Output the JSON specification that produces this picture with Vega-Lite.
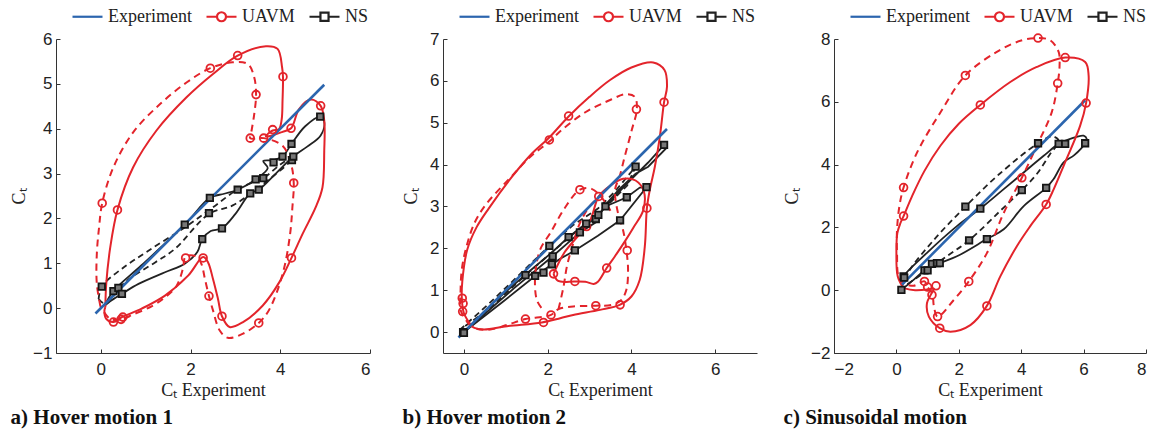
{
"$schema":"https://vega.github.io/schema/vega-lite/v6.json",
"padding":{"left":10,"top":0,"right":5,"bottom":5},
"bounds":"flush",
"spacing":73,
"resolve":{"scale":{"x":"independent","y":"independent","color":"independent","shape":"independent"},"legend":{"color":"independent","shape":"independent"}},
"config":{
 "view":{"stroke":null},
 "axis":{"grid":false,"domainColor":"#333","domainWidth":1,"tickColor":"#333","tickSize":-4,"tickWidth":1,"labelFont":"Liberation Sans","labelFontSize":17,"labelColor":"#222","labelPadding":12,"titleFont":"Liberation Serif","titleFontSize":18,"titleFontWeight":"normal","titleColor":"#222"},
 "axisX":{"titlePadding":4},
 "axisY":{"labelPadding":8},
 "legend":{"orient":"none","direction":"horizontal","padding":0,"symbolSize":900,"symbolStrokeWidth":2.2,"symbolFillColor":"white","symbolOpacity":1,"labelFont":"Liberation Serif","labelFontSize":18,"labelColor":"#222","labelOffset":4,"columnPadding":10}
},
"datasets":{
"EXP":[{"p":"a","x":-0.12,"y":-0.12},{"p":"a","x":4.98,"y":4.98},{"p":"b","x":-0.13,"y":-0.13},{"p":"b","x":4.85,"y":4.85},{"p":"c","x":0.18,"y":0.18},{"p":"c","x":6.05,"y":6.05}],
"LEG":[{"s":"Experiment"},{"s":"UAVM"},{"s":"NS"}],
"U":[
{"k":"as","g":1,"x":0.10,"y":0.02},{"k":"as","g":1,"x":0.12,"y":0.54},{"k":"as","g":1,"x":0.21,"y":1.36},{"k":"as","g":1,"x":0.37,"y":2.19},{"k":"as","g":1,"x":0.72,"y":3.14},{"k":"as","g":1,"x":1.24,"y":3.96},{"k":"as","g":1,"x":1.91,"y":4.70},{"k":"as","g":1,"x":2.50,"y":5.22},{"k":"as","g":1,"x":3.05,"y":5.63},{"k":"as","g":1,"x":3.68,"y":5.84},{"k":"as","g":1,"x":3.94,"y":5.78},{"k":"as","g":1,"x":4.04,"y":5.37},{"k":"as","g":1,"x":4.06,"y":5.16},{"k":"as","g":1,"x":4.05,"y":4.63},{"k":"as","g":1,"x":4.03,"y":4.2},{"k":"as","g":1,"x":3.97,"y":3.99},{"k":"as","g":1,"x":3.83,"y":3.96},{"k":"as","g":1,"x":3.68,"y":3.83},{"k":"as","g":1,"x":3.85,"y":3.86},{"k":"as","g":1,"x":4.05,"y":3.93},{"k":"as","g":1,"x":4.24,"y":4.01},{"k":"as","g":1,"x":4.42,"y":4.44},{"k":"as","g":1,"x":4.68,"y":4.65},{"k":"as","g":1,"x":4.90,"y":4.51},{"k":"as","g":1,"x":4.98,"y":4.18},{"k":"as","g":1,"x":4.98,"y":3.51},{"k":"as","g":1,"x":4.94,"y":2.69},{"k":"as","g":1,"x":4.79,"y":2.25},{"k":"as","g":1,"x":4.50,"y":1.66},{"k":"as","g":1,"x":4.25,"y":1.12},{"k":"as","g":1,"x":3.98,"y":0.58},{"k":"as","g":1,"x":3.61,"y":0.06},{"k":"as","g":1,"x":3.17,"y":-0.31},{"k":"as","g":1,"x":2.87,"y":-0.42},{"k":"as","g":1,"x":2.70,"y":-0.18},{"k":"as","g":1,"x":2.61,"y":0.21},{"k":"as","g":1,"x":2.50,"y":0.65},{"k":"as","g":1,"x":2.39,"y":1.02},{"k":"as","g":1,"x":2.28,"y":1.14},{"k":"as","g":1,"x":1.95,"y":0.73},{"k":"as","g":1,"x":1.43,"y":0.28},{"k":"as","g":1,"x":0.91,"y":-0.01},{"k":"as","g":1,"x":0.47,"y":-0.20},{"k":"as","g":1,"x":0.28,"y":-0.31},{"k":"as","g":1,"x":0.12,"y":-0.24},{"k":"as","g":1,"x":0.08,"y":-0.05},{"k":"as","g":1,"x":0.10,"y":0.02},
{"k":"ad","g":2,"x":-0.01,"y":0.04},{"k":"ad","g":2,"x":-0.09,"y":0.54},{"k":"ad","g":2,"x":-0.09,"y":1.21},{"k":"ad","g":2,"x":-0.04,"y":1.80},{"k":"ad","g":2,"x":0.03,"y":2.34},{"k":"ad","g":2,"x":0.28,"y":3.14},{"k":"ad","g":2,"x":0.72,"y":3.92},{"k":"ad","g":2,"x":1.32,"y":4.55},{"k":"ad","g":2,"x":1.91,"y":5.03},{"k":"ad","g":2,"x":2.44,"y":5.35},{"k":"ad","g":2,"x":2.94,"y":5.48},{"k":"ad","g":2,"x":3.28,"y":5.44},{"k":"ad","g":2,"x":3.42,"y":5.14},{"k":"ad","g":2,"x":3.46,"y":4.76},{"k":"ad","g":2,"x":3.42,"y":4.33},{"k":"ad","g":2,"x":3.36,"y":3.96},{"k":"ad","g":2,"x":3.33,"y":3.79},{"k":"ad","g":2,"x":3.63,"y":3.79},{"k":"ad","g":2,"x":4.05,"y":3.62},{"k":"ad","g":2,"x":4.24,"y":3.21},{"k":"ad","g":2,"x":4.30,"y":2.79},{"k":"ad","g":2,"x":4.27,"y":2.25},{"k":"ad","g":2,"x":4.22,"y":1.66},{"k":"ad","g":2,"x":4.09,"y":0.91},{"k":"ad","g":2,"x":3.91,"y":0.32},{"k":"ad","g":2,"x":3.72,"y":-0.09},{"k":"ad","g":2,"x":3.52,"y":-0.33},{"k":"ad","g":2,"x":3.17,"y":-0.57},{"k":"ad","g":2,"x":2.83,"y":-0.66},{"k":"ad","g":2,"x":2.65,"y":-0.50},{"k":"ad","g":2,"x":2.50,"y":-0.05},{"k":"ad","g":2,"x":2.41,"y":0.27},{"k":"ad","g":2,"x":2.32,"y":0.65},{"k":"ad","g":2,"x":2.24,"y":0.99},{"k":"ad","g":2,"x":2.13,"y":1.15},{"k":"ad","g":2,"x":1.89,"y":1.15},{"k":"ad","g":2,"x":1.83,"y":0.88},{"k":"ad","g":2,"x":1.69,"y":0.50},{"k":"ad","g":2,"x":1.43,"y":0.24},{"k":"ad","g":2,"x":1.13,"y":0.04},{"k":"ad","g":2,"x":0.72,"y":-0.14},{"k":"ad","g":2,"x":0.49,"y":-0.24},{"k":"ad","g":2,"x":0.21,"y":-0.24},{"k":"ad","g":2,"x":-0.01,"y":0.04},
{"k":"bs","g":3,"x":0.18,"y":0.15},{"k":"bs","g":3,"x":0.0,"y":0.45},{"k":"bs","g":3,"x":-0.05,"y":0.8},{"k":"bs","g":3,"x":-0.04,"y":1.2},{"k":"bs","g":3,"x":0.08,"y":1.97},{"k":"bs","g":3,"x":0.3,"y":2.5},{"k":"bs","g":3,"x":0.59,"y":2.95},{"k":"bs","g":3,"x":1.15,"y":3.71},{"k":"bs","g":3,"x":1.63,"y":4.27},{"k":"bs","g":3,"x":2.02,"y":4.63},{"k":"bs","g":3,"x":2.5,"y":5.15},{"k":"bs","g":3,"x":3.0,"y":5.62},{"k":"bs","g":3,"x":3.49,"y":6.02},{"k":"bs","g":3,"x":4.0,"y":6.32},{"k":"bs","g":3,"x":4.52,"y":6.44},{"k":"bs","g":3,"x":4.79,"y":6.26},{"k":"bs","g":3,"x":4.85,"y":5.86},{"k":"bs","g":3,"x":4.78,"y":5.49},{"k":"bs","g":3,"x":4.68,"y":4.67},{"k":"bs","g":3,"x":4.56,"y":3.95},{"k":"bs","g":3,"x":4.44,"y":3.4},{"k":"bs","g":3,"x":4.37,"y":2.96},{"k":"bs","g":3,"x":4.32,"y":2.04},{"k":"bs","g":3,"x":4.2,"y":1.25},{"k":"bs","g":3,"x":4.0,"y":0.85},{"k":"bs","g":3,"x":3.72,"y":0.65},{"k":"bs","g":3,"x":3.25,"y":0.53},{"k":"bs","g":3,"x":2.61,"y":0.41},{"k":"bs","g":3,"x":2.3,"y":0.33},{"k":"bs","g":3,"x":1.86,"y":0.23},{"k":"bs","g":3,"x":1.03,"y":0.14},{"k":"bs","g":3,"x":0.48,"y":0.06},{"k":"bs","g":3,"x":0.25,"y":0.1},{"k":"bs","g":3,"x":0.18,"y":0.15},
{"k":"bs","g":4,"x":2.14,"y":1.39},{"k":"bs","g":4,"x":2.4,"y":1.9},{"k":"bs","g":4,"x":2.78,"y":2.36},{"k":"bs","g":4,"x":3.02,"y":2.68},{"k":"bs","g":4,"x":3.22,"y":3.24},{"k":"bs","g":4,"x":3.5,"y":3.5},{"k":"bs","g":4,"x":3.8,"y":3.66},{"k":"bs","g":4,"x":4.1,"y":3.62},{"k":"bs","g":4,"x":4.3,"y":3.35},{"k":"bs","g":4,"x":4.28,"y":2.9},{"k":"bs","g":4,"x":4.05,"y":2.5},{"k":"bs","g":4,"x":3.84,"y":2.16},{"k":"bs","g":4,"x":3.6,"y":1.8},{"k":"bs","g":4,"x":3.41,"y":1.53},{"k":"bs","g":4,"x":3.2,"y":1.2},{"k":"bs","g":4,"x":3.1,"y":1.15},{"k":"bs","g":4,"x":2.9,"y":1.2},{"k":"bs","g":4,"x":2.65,"y":1.21},{"k":"bs","g":4,"x":2.25,"y":1.22},{"k":"bs","g":4,"x":2.14,"y":1.39},
{"k":"bd","g":5,"x":0.15,"y":0.15},{"k":"bd","g":5,"x":-0.07,"y":0.5},{"k":"bd","g":5,"x":-0.08,"y":1.0},{"k":"bd","g":5,"x":-0.05,"y":1.5},{"k":"bd","g":5,"x":0.05,"y":2.0},{"k":"bd","g":5,"x":0.25,"y":2.6},{"k":"bd","g":5,"x":0.52,"y":3.04},{"k":"bd","g":5,"x":1.1,"y":3.68},{"k":"bd","g":5,"x":1.6,"y":4.2},{"k":"bd","g":5,"x":2.04,"y":4.55},{"k":"bd","g":5,"x":2.34,"y":4.83},{"k":"bd","g":5,"x":2.9,"y":5.25},{"k":"bd","g":5,"x":3.53,"y":5.56},{"k":"bd","g":5,"x":3.85,"y":5.68},{"k":"bd","g":5,"x":4.08,"y":5.62},{"k":"bd","g":5,"x":4.13,"y":5.32},{"k":"bd","g":5,"x":4.01,"y":4.83},{"k":"bd","g":5,"x":3.84,"y":4.19},{"k":"bd","g":5,"x":3.72,"y":3.72},{"k":"bd","g":5,"x":3.61,"y":3.40},{"k":"bd","g":5,"x":3.68,"y":2.84},{"k":"bd","g":5,"x":3.8,"y":2.44},{"k":"bd","g":5,"x":3.88,"y":1.96},{"k":"bd","g":5,"x":3.92,"y":1.49},{"k":"bd","g":5,"x":3.88,"y":1.01},{"k":"bd","g":5,"x":3.76,"y":0.77},{"k":"bd","g":5,"x":3.53,"y":0.65},{"k":"bd","g":5,"x":3.15,"y":0.63},{"k":"bd","g":5,"x":2.61,"y":0.61},{"k":"bd","g":5,"x":2.26,"y":0.55},{"k":"bd","g":5,"x":2.08,"y":0.41},{"k":"bd","g":5,"x":1.47,"y":0.31},{"k":"bd","g":5,"x":1.03,"y":0.17},{"k":"bd","g":5,"x":0.63,"y":0.06},{"k":"bd","g":5,"x":0.3,"y":0.08},{"k":"bd","g":5,"x":0.15,"y":0.15},
{"k":"bd","g":6,"x":1.85,"y":0.58},{"k":"bd","g":6,"x":1.74,"y":0.77},{"k":"bd","g":6,"x":1.70,"y":1.33},{"k":"bd","g":6,"x":1.82,"y":1.97},{"k":"bd","g":6,"x":2.06,"y":2.36},{"k":"bd","g":6,"x":2.4,"y":2.95},{"k":"bd","g":6,"x":2.77,"y":3.40},{"k":"bd","g":6,"x":3.05,"y":3.42},{"k":"bd","g":6,"x":3.3,"y":3.2},{"k":"bd","g":6,"x":3.5,"y":2.9},
{"k":"bd","g":7,"x":2.26,"y":0.55},{"k":"bd","g":7,"x":2.38,"y":1.09},{"k":"bd","g":7,"x":2.46,"y":1.57},{"k":"bd","g":7,"x":2.61,"y":2.12},{"k":"bd","g":7,"x":2.77,"y":2.6},{"k":"bd","g":7,"x":3.0,"y":3.0},{"k":"bd","g":7,"x":3.3,"y":3.3},
{"k":"cs","g":8,"x":0.2,"y":0.1},{"k":"cs","g":8,"x":0.04,"y":0.45},{"k":"cs","g":8,"x":0.0,"y":1.18},{"k":"cs","g":8,"x":0.03,"y":1.82},{"k":"cs","g":8,"x":0.13,"y":2.14},{"k":"cs","g":8,"x":0.23,"y":2.36},{"k":"cs","g":8,"x":0.5,"y":2.99},{"k":"cs","g":8,"x":0.9,"y":3.8},{"k":"cs","g":8,"x":1.41,"y":4.6},{"k":"cs","g":8,"x":2.0,"y":5.3},{"k":"cs","g":8,"x":2.69,"y":5.9},{"k":"cs","g":8,"x":3.65,"y":6.63},{"k":"cs","g":8,"x":4.5,"y":7.11},{"k":"cs","g":8,"x":5.41,"y":7.41},{"k":"cs","g":8,"x":6.05,"y":7.27},{"k":"cs","g":8,"x":6.16,"y":6.85},{"k":"cs","g":8,"x":6.08,"y":5.96},{"k":"cs","g":8,"x":5.89,"y":5.24},{"k":"cs","g":8,"x":5.36,"y":3.96},{"k":"cs","g":8,"x":5.04,"y":3.21},{"k":"cs","g":8,"x":4.8,"y":2.73},{"k":"cs","g":8,"x":4.29,"y":2.04},{"k":"cs","g":8,"x":3.86,"y":1.4},{"k":"cs","g":8,"x":3.33,"y":0.44},{"k":"cs","g":8,"x":2.9,"y":-0.5},{"k":"cs","g":8,"x":2.37,"y":-1.11},{"k":"cs","g":8,"x":1.73,"y":-1.32},{"k":"cs","g":8,"x":1.39,"y":-1.21},{"k":"cs","g":8,"x":1.04,"y":-0.84},{"k":"cs","g":8,"x":0.98,"y":-0.41},{"k":"cs","g":8,"x":1.1,"y":-0.15},{"k":"cs","g":8,"x":1.2,"y":0.05},{"k":"cs","g":8,"x":1.0,"y":0.02},{"k":"cs","g":8,"x":0.6,"y":0.0},{"k":"cs","g":8,"x":0.3,"y":0.05},{"k":"cs","g":8,"x":0.2,"y":0.1},
{"k":"cd","g":9,"x":0.25,"y":0.2},{"k":"cd","g":9,"x":0.07,"y":0.44},{"k":"cd","g":9,"x":0.02,"y":1.18},{"k":"cd","g":9,"x":0.02,"y":1.93},{"k":"cd","g":9,"x":0.1,"y":2.7},{"k":"cd","g":9,"x":0.23,"y":3.27},{"k":"cd","g":9,"x":0.66,"y":4.38},{"k":"cd","g":9,"x":1.41,"y":5.66},{"k":"cd","g":9,"x":2.21,"y":6.84},{"k":"cd","g":9,"x":3.22,"y":7.59},{"k":"cd","g":9,"x":4.0,"y":7.95},{"k":"cd","g":9,"x":4.54,"y":8.03},{"k":"cd","g":9,"x":4.93,"y":7.96},{"k":"cd","g":9,"x":5.2,"y":7.59},{"k":"cd","g":9,"x":5.23,"y":7.16},{"k":"cd","g":9,"x":5.17,"y":6.59},{"k":"cd","g":9,"x":4.98,"y":5.67},{"k":"cd","g":9,"x":4.5,"y":4.6},{"k":"cd","g":9,"x":4.02,"y":3.58},{"k":"cd","g":9,"x":3.44,"y":2.46},{"k":"cd","g":9,"x":2.9,"y":1.18},{"k":"cd","g":9,"x":2.32,"y":0.28},{"k":"cd","g":9,"x":1.84,"y":-0.31},{"k":"cd","g":9,"x":1.32,"y":-0.84},{"k":"cd","g":9,"x":1.2,"y":-0.5},{"k":"cd","g":9,"x":1.15,"y":-0.1},{"k":"cd","g":9,"x":1.0,"y":0.1},{"k":"cd","g":9,"x":0.9,"y":0.28},{"k":"cd","g":9,"x":0.55,"y":0.14},{"k":"cd","g":9,"x":0.25,"y":0.2}
],
"N":[
{"k":"as","g":1,"x":0.08,"y":0.05},{"k":"as","g":1,"x":0.28,"y":0.38},{"k":"as","g":1,"x":0.9,"y":0.95},{"k":"as","g":1,"x":1.87,"y":1.86},{"k":"as","g":1,"x":2.43,"y":2.46},{"k":"as","g":1,"x":2.75,"y":2.55},{"k":"as","g":1,"x":3.05,"y":2.64},{"k":"as","g":1,"x":3.45,"y":2.87},{"k":"as","g":1,"x":3.72,"y":3.12},{"k":"as","g":1,"x":3.62,"y":3.28},{"k":"as","g":1,"x":3.85,"y":3.3},{"k":"as","g":1,"x":4.05,"y":3.38},{"k":"as","g":1,"x":4.25,"y":3.66},{"k":"as","g":1,"x":4.55,"y":4.05},{"k":"as","g":1,"x":4.89,"y":4.27},{"k":"as","g":1,"x":4.98,"y":4.15},{"k":"as","g":1,"x":4.9,"y":3.85},{"k":"as","g":1,"x":4.6,"y":3.6},{"k":"as","g":1,"x":4.29,"y":3.38},{"k":"as","g":1,"x":3.9,"y":3.0},{"k":"as","g":1,"x":3.52,"y":2.64},{"k":"as","g":1,"x":3.33,"y":2.56},{"k":"as","g":1,"x":3.0,"y":2.1},{"k":"as","g":1,"x":2.7,"y":1.78},{"k":"as","g":1,"x":2.45,"y":1.72},{"k":"as","g":1,"x":2.26,"y":1.54},{"k":"as","g":1,"x":2.15,"y":1.25},{"k":"as","g":1,"x":1.87,"y":0.99},{"k":"as","g":1,"x":1.43,"y":0.80},{"k":"as","g":1,"x":0.84,"y":0.54},{"k":"as","g":1,"x":0.47,"y":0.32},{"k":"as","g":1,"x":0.2,"y":0.15},{"k":"as","g":1,"x":0.08,"y":0.05},
{"k":"ad","g":2,"x":-0.05,"y":0.2},{"k":"ad","g":2,"x":0.02,"y":0.48},{"k":"ad","g":2,"x":0.47,"y":0.88},{"k":"ad","g":2,"x":1.06,"y":1.28},{"k":"ad","g":2,"x":1.87,"y":1.8},{"k":"ad","g":2,"x":2.5,"y":2.25},{"k":"ad","g":2,"x":3.1,"y":2.68},{"k":"ad","g":2,"x":3.62,"y":2.9},{"k":"ad","g":2,"x":4.0,"y":3.2},{"k":"ad","g":2,"x":4.29,"y":3.38},{"k":"ad","g":2,"x":4.2,"y":3.25},{"k":"ad","g":2,"x":3.9,"y":2.99},{"k":"ad","g":2,"x":3.4,"y":2.6},{"k":"ad","g":2,"x":2.94,"y":2.29},{"k":"ad","g":2,"x":2.41,"y":2.1},{"k":"ad","g":2,"x":1.65,"y":1.32},{"k":"ad","g":2,"x":1.21,"y":1.02},{"k":"ad","g":2,"x":0.54,"y":0.58},{"k":"ad","g":2,"x":0.1,"y":0.1},{"k":"ad","g":2,"x":-0.05,"y":0.2},
{"k":"bs","g":3,"x":0.0,"y":0.0},{"k":"bs","g":3,"x":0.9,"y":0.7},{"k":"bs","g":3,"x":1.7,"y":1.34},{"k":"bs","g":3,"x":2.3,"y":1.75},{"k":"bs","g":3,"x":2.65,"y":1.95},{"k":"bs","g":3,"x":3.2,"y":2.3},{"k":"bs","g":3,"x":3.73,"y":2.67},{"k":"bs","g":3,"x":4.36,"y":3.46},{"k":"bs","g":3,"x":4.2,"y":3.45},{"k":"bs","g":3,"x":3.89,"y":3.22},{"k":"bs","g":3,"x":3.38,"y":3.0},{"k":"bs","g":3,"x":3.15,"y":2.7},{"k":"bs","g":3,"x":2.92,"y":2.59},{"k":"bs","g":3,"x":2.5,"y":2.27},{"k":"bs","g":3,"x":2.1,"y":1.9},{"k":"bs","g":3,"x":1.5,"y":1.4},{"k":"bs","g":3,"x":0.7,"y":0.7},{"k":"bs","g":3,"x":0.0,"y":0.0},
{"k":"bs","g":4,"x":0.0,"y":0.0},{"k":"bs","g":4,"x":1.2,"y":1.05},{"k":"bs","g":4,"x":2.12,"y":1.81},{"k":"bs","g":4,"x":2.77,"y":2.38},{"k":"bs","g":4,"x":3.15,"y":2.62},{"k":"bs","g":4,"x":3.21,"y":2.8},{"k":"bs","g":4,"x":3.38,"y":3.0},{"k":"bs","g":4,"x":3.9,"y":3.55},{"k":"bs","g":4,"x":4.4,"y":4.05},{"k":"bs","g":4,"x":4.78,"y":4.47},{"k":"bs","g":4,"x":4.82,"y":4.38},{"k":"bs","g":4,"x":4.4,"y":3.95},{"k":"bs","g":4,"x":4.1,"y":3.78},{"k":"bs","g":4,"x":3.7,"y":3.4},{"k":"bs","g":4,"x":3.3,"y":2.95},
{"k":"bd","g":5,"x":-0.1,"y":0.05},{"k":"bd","g":5,"x":0.6,"y":0.68},{"k":"bd","g":5,"x":1.2,"y":1.25},{"k":"bd","g":5,"x":2.04,"y":2.06},{"k":"bd","g":5,"x":2.6,"y":2.55},{"k":"bd","g":5,"x":3.2,"y":2.95},{"k":"bd","g":5,"x":3.6,"y":3.35},{"k":"bd","g":5,"x":4.1,"y":3.95},{"k":"bd","g":5,"x":3.9,"y":3.5},{"k":"bd","g":5,"x":3.4,"y":3.0},{"k":"bd","g":5,"x":2.5,"y":2.25},{"k":"bd","g":5,"x":1.47,"y":1.36},{"k":"bd","g":5,"x":0.6,"y":0.55},{"k":"bd","g":5,"x":-0.1,"y":0.05},
{"k":"cs","g":6,"x":0.16,"y":0.01},{"k":"cs","g":6,"x":0.2,"y":0.3},{"k":"cs","g":6,"x":0.23,"y":0.44},{"k":"cs","g":6,"x":0.98,"y":1.19},{"k":"cs","g":6,"x":1.94,"y":2.04},{"k":"cs","g":6,"x":2.69,"y":2.6},{"k":"cs","g":6,"x":3.44,"y":3.22},{"k":"cs","g":6,"x":4.08,"y":3.75},{"k":"cs","g":6,"x":4.72,"y":4.28},{"k":"cs","g":6,"x":5.2,"y":4.66},{"k":"cs","g":6,"x":5.57,"y":4.82},{"k":"cs","g":6,"x":6.0,"y":4.92},{"k":"cs","g":6,"x":6.1,"y":4.82},{"k":"cs","g":6,"x":6.05,"y":4.68},{"k":"cs","g":6,"x":5.7,"y":4.3},{"k":"cs","g":6,"x":5.36,"y":4.07},{"k":"cs","g":6,"x":5.04,"y":3.54},{"k":"cs","g":6,"x":4.8,"y":3.26},{"k":"cs","g":6,"x":4.08,"y":2.68},{"k":"cs","g":6,"x":3.44,"y":1.94},{"k":"cs","g":6,"x":2.9,"y":1.63},{"k":"cs","g":6,"x":1.94,"y":1.08},{"k":"cs","g":6,"x":1.41,"y":0.87},{"k":"cs","g":6,"x":1.09,"y":0.71},{"k":"cs","g":6,"x":0.9,"y":0.63},{"k":"cs","g":6,"x":0.55,"y":0.33},{"k":"cs","g":6,"x":0.16,"y":0.01},
{"k":"cd","g":7,"x":0.15,"y":0.05},{"k":"cd","g":7,"x":0.4,"y":0.6},{"k":"cd","g":7,"x":1.2,"y":1.6},{"k":"cd","g":7,"x":2.21,"y":2.66},{"k":"cd","g":7,"x":3.3,"y":3.7},{"k":"cd","g":7,"x":4.54,"y":4.68},{"k":"cd","g":7,"x":5.0,"y":4.9},{"k":"cd","g":7,"x":5.2,"y":4.75},{"k":"cd","g":7,"x":4.9,"y":4.3},{"k":"cd","g":7,"x":4.5,"y":3.7},{"k":"cd","g":7,"x":4.02,"y":3.19},{"k":"cd","g":7,"x":3.3,"y":2.5},{"k":"cd","g":7,"x":2.33,"y":1.59},{"k":"cd","g":7,"x":1.5,"y":1.0},{"k":"cd","g":7,"x":0.8,"y":0.5},{"k":"cd","g":7,"x":0.15,"y":0.05}
],
"MU":[
{"p":"a","x":0.37,"y":2.19},{"p":"a","x":3.05,"y":5.63},{"p":"a","x":4.06,"y":5.16},{"p":"a","x":3.83,"y":3.98},{"p":"a","x":3.63,"y":3.79},{"p":"a","x":4.24,"y":4.01},{"p":"a","x":4.90,"y":4.51},{"p":"a","x":4.25,"y":1.12},{"p":"a","x":2.70,"y":-0.18},{"p":"a","x":2.28,"y":1.12},{"p":"a","x":0.49,"y":-0.20},{"p":"a","x":0.28,"y":-0.31},{"p":"a","x":0.03,"y":2.34},{"p":"a","x":2.44,"y":5.35},{"p":"a","x":3.46,"y":4.76},{"p":"a","x":3.33,"y":3.79},{"p":"a","x":4.30,"y":2.79},{"p":"a","x":3.52,"y":-0.33},{"p":"a","x":2.41,"y":0.27},{"p":"a","x":1.89,"y":1.12},{"p":"a","x":0.45,"y":-0.25},
{"p":"b","x":-0.04,"y":0.81},{"p":"b","x":-0.02,"y":0.68},{"p":"b","x":-0.03,"y":0.49},{"p":"b","x":2.04,"y":4.59},{"p":"b","x":2.50,"y":5.16},{"p":"b","x":4.78,"y":5.49},{"p":"b","x":4.12,"y":5.32},{"p":"b","x":2.77,"y":3.40},{"p":"b","x":3.22,"y":3.24},{"p":"b","x":2.93,"y":2.52},{"p":"b","x":4.37,"y":2.96},{"p":"b","x":3.90,"y":1.95},{"p":"b","x":3.41,"y":1.53},{"p":"b","x":2.14,"y":1.39},{"p":"b","x":2.65,"y":1.21},{"p":"b","x":3.73,"y":0.65},{"p":"b","x":3.15,"y":0.63},{"p":"b","x":2.08,"y":0.41},{"p":"b","x":1.90,"y":0.23},{"p":"b","x":1.47,"y":0.31},
{"p":"c","x":0.23,"y":2.36},{"p":"c","x":0.23,"y":3.27},{"p":"c","x":2.21,"y":6.84},{"p":"c","x":2.69,"y":5.90},{"p":"c","x":4.54,"y":8.03},{"p":"c","x":5.41,"y":7.41},{"p":"c","x":5.17,"y":6.59},{"p":"c","x":6.08,"y":5.96},{"p":"c","x":4.02,"y":3.58},{"p":"c","x":4.80,"y":2.73},{"p":"c","x":2.32,"y":0.28},{"p":"c","x":2.90,"y":-0.50},{"p":"c","x":1.32,"y":-0.84},{"p":"c","x":1.39,"y":-1.21},{"p":"c","x":0.90,"y":0.28},{"p":"c","x":1.00,"y":0.10},{"p":"c","x":1.14,"y":-0.15},{"p":"c","x":1.27,"y":0.14}
],
"MN":[
{"p":"a","x":0.02,"y":0.48},{"p":"a","x":0.28,"y":0.38},{"p":"a","x":0.39,"y":0.45},{"p":"a","x":0.47,"y":0.32},{"p":"a","x":1.87,"y":1.86},{"p":"a","x":2.26,"y":1.54},{"p":"a","x":2.43,"y":2.46},{"p":"a","x":2.41,"y":2.12},{"p":"a","x":2.70,"y":1.78},{"p":"a","x":3.05,"y":2.64},{"p":"a","x":3.33,"y":2.56},{"p":"a","x":3.45,"y":2.87},{"p":"a","x":3.52,"y":2.64},{"p":"a","x":3.62,"y":2.90},{"p":"a","x":3.85,"y":3.25},{"p":"a","x":4.05,"y":3.38},{"p":"a","x":4.25,"y":3.66},{"p":"a","x":4.26,"y":3.30},{"p":"a","x":4.29,"y":3.38},{"p":"a","x":4.89,"y":4.27},
{"p":"b","x":-0.02,"y":0.0},{"p":"b","x":0.0,"y":-0.02},{"p":"b","x":1.47,"y":1.36},{"p":"b","x":1.70,"y":1.34},{"p":"b","x":1.90,"y":1.42},{"p":"b","x":2.04,"y":2.06},{"p":"b","x":2.12,"y":1.81},{"p":"b","x":2.10,"y":1.62},{"p":"b","x":2.50,"y":2.27},{"p":"b","x":2.65,"y":1.95},{"p":"b","x":2.77,"y":2.38},{"p":"b","x":2.92,"y":2.59},{"p":"b","x":3.15,"y":2.70},{"p":"b","x":3.21,"y":2.80},{"p":"b","x":3.38,"y":3.00},{"p":"b","x":3.73,"y":2.67},{"p":"b","x":3.89,"y":3.22},{"p":"b","x":4.10,"y":3.95},{"p":"b","x":4.36,"y":3.46},{"p":"b","x":4.78,"y":4.47},
{"p":"c","x":0.23,"y":0.44},{"p":"c","x":0.25,"y":0.40},{"p":"c","x":0.16,"y":0.01},{"p":"c","x":0.90,"y":0.63},{"p":"c","x":1.00,"y":0.63},{"p":"c","x":1.14,"y":0.84},{"p":"c","x":1.30,"y":0.86},{"p":"c","x":1.39,"y":0.86},{"p":"c","x":2.21,"y":2.66},{"p":"c","x":2.33,"y":1.59},{"p":"c","x":2.69,"y":2.60},{"p":"c","x":2.90,"y":1.63},{"p":"c","x":4.02,"y":3.19},{"p":"c","x":4.54,"y":4.68},{"p":"c","x":4.80,"y":3.26},{"p":"c","x":5.20,"y":4.66},{"p":"c","x":5.41,"y":4.66},{"p":"c","x":6.05,"y":4.68}
]
},
"hconcat":[
{
"width":314,"height":314,
"title":{"text":"a) Hover motion 1","orient":"bottom","anchor":"start","frame":"bounds","font":"Liberation Serif","fontSize":21,"fontWeight":"bold","color":"#111","offset":8},
"encoding":{
 "x":{"field":"x","type":"quantitative","scale":{"domain":[-1,6],"nice":false,"zero":false},"axis":{"values":[0,2,4,6],"title":"Cₜ Experiment"}},
 "y":{"field":"y","type":"quantitative","scale":{"domain":[-1,6],"nice":false,"zero":false},"axis":{"values":[-1,0,1,2,3,4,5,6],"title":"Cₜ","titlePadding":4}}
},
"layer":[
 {"data":{"name":"N"},"transform":[{"filter":"datum.k=='ad'"},{"window":[{"op":"row_number","as":"i"}]}],"mark":{"type":"line","interpolate":"catmull-rom","color":"#222222","strokeWidth":1.8,"strokeDash":[6,4]},"encoding":{"detail":{"field":"g"},"order":{"field":"i","type":"quantitative"}}},
 {"data":{"name":"N"},"transform":[{"filter":"datum.k=='as'"},{"window":[{"op":"row_number","as":"i"}]}],"mark":{"type":"line","interpolate":"catmull-rom","color":"#222222","strokeWidth":1.8},"encoding":{"detail":{"field":"g"},"order":{"field":"i","type":"quantitative"}}},
 {"data":{"name":"U"},"transform":[{"filter":"datum.k=='ad'"},{"window":[{"op":"row_number","as":"i"}]}],"mark":{"type":"line","interpolate":"catmull-rom","color":"#e3242b","strokeWidth":2,"strokeDash":[7,5]},"encoding":{"detail":{"field":"g"},"order":{"field":"i","type":"quantitative"}}},
 {"data":{"name":"U"},"transform":[{"filter":"datum.k=='as'"},{"window":[{"op":"row_number","as":"i"}]}],"mark":{"type":"line","interpolate":"catmull-rom","color":"#e3242b","strokeWidth":2},"encoding":{"detail":{"field":"g"},"order":{"field":"i","type":"quantitative"}}},
 {"data":{"name":"EXP"},"transform":[{"filter":"datum.p=='a'"}],"mark":{"type":"line","color":"#2b65ae","strokeWidth":2.6},"encoding":{}},
 {"data":{"name":"MU"},"transform":[{"filter":"datum.p=='a'"}],"mark":{"type":"point","shape":"circle","size":60,"filled":false,"color":"#e3242b","strokeWidth":1.8,"opacity":1}},
 {"data":{"name":"MN"},"transform":[{"filter":"datum.p=='a'"}],"mark":{"type":"point","shape":"square","size":42,"filled":true,"fill":"#777777","stroke":"#151515","strokeWidth":1.8,"opacity":1}},
 {"data":{"name":"LEG"},"mark":{"type":"point","filled":false},"encoding":{
   "color":{"field":"s","type":"nominal","scale":{"domain":["Experiment","UAVM","NS"],"range":["#2b65ae","#e3242b","#222222"]},"legend":{"title":null,"legendX":15,"legendY":-39}},
   "shape":{"field":"s","type":"nominal","scale":{"domain":["Experiment","UAVM","NS"],"range":["M-1,0H1","M-1,0H-0.3M0.3,0H1M0.3,0A0.3,0.3,0,1,1,-0.3,0A0.3,0.3,0,1,1,0.3,0","M-1,0H-0.27M0.27,0H1M-0.27,-0.27H0.27V0.27H-0.27Z"]},"legend":{"title":null,"legendX":15,"legendY":-39}}}}
]
},
{
"bounds":"flush",
"spacing":77,
"resolve":{"scale":{"x":"independent","y":"independent","color":"independent","shape":"independent"},"legend":{"color":"independent","shape":"independent"}},
"hconcat":[
{
"width":314,"height":314,
"title":{"text":"b) Hover motion 2","orient":"bottom","anchor":"start","frame":"bounds","font":"Liberation Serif","fontSize":21,"fontWeight":"bold","color":"#111","offset":8},
"encoding":{
 "x":{"field":"x","type":"quantitative","scale":{"domain":[-0.5,7],"nice":false,"zero":false},"axis":{"values":[0,2,4,6],"title":"Cₜ Experiment"}},
 "y":{"field":"y","type":"quantitative","scale":{"domain":[-0.5,7],"nice":false,"zero":false},"axis":{"values":[0,1,2,3,4,5,6,7],"title":"Cₜ","titlePadding":9}}
},
"layer":[
 {"data":{"name":"N"},"transform":[{"filter":"datum.k=='bd'"},{"window":[{"op":"row_number","as":"i"}]}],"mark":{"type":"line","interpolate":"linear","color":"#222222","strokeWidth":1.8,"strokeDash":[6,4]},"encoding":{"detail":{"field":"g"},"order":{"field":"i","type":"quantitative"}}},
 {"data":{"name":"N"},"transform":[{"filter":"datum.k=='bs'"},{"window":[{"op":"row_number","as":"i"}]}],"mark":{"type":"line","interpolate":"linear","color":"#222222","strokeWidth":1.8},"encoding":{"detail":{"field":"g"},"order":{"field":"i","type":"quantitative"}}},
 {"data":{"name":"U"},"transform":[{"filter":"datum.k=='bd'"},{"window":[{"op":"row_number","as":"i"}]}],"mark":{"type":"line","interpolate":"catmull-rom","color":"#e3242b","strokeWidth":2,"strokeDash":[7,5]},"encoding":{"detail":{"field":"g"},"order":{"field":"i","type":"quantitative"}}},
 {"data":{"name":"U"},"transform":[{"filter":"datum.k=='bs'"},{"window":[{"op":"row_number","as":"i"}]}],"mark":{"type":"line","interpolate":"catmull-rom","color":"#e3242b","strokeWidth":2},"encoding":{"detail":{"field":"g"},"order":{"field":"i","type":"quantitative"}}},
 {"data":{"name":"EXP"},"transform":[{"filter":"datum.p=='b'"}],"mark":{"type":"line","color":"#2b65ae","strokeWidth":2.6},"encoding":{}},
 {"data":{"name":"MU"},"transform":[{"filter":"datum.p=='b'"}],"mark":{"type":"point","shape":"circle","size":60,"filled":false,"color":"#e3242b","strokeWidth":1.8,"opacity":1}},
 {"data":{"name":"MN"},"transform":[{"filter":"datum.p=='b'"}],"mark":{"type":"point","shape":"square","size":42,"filled":true,"fill":"#777777","stroke":"#151515","strokeWidth":1.8,"opacity":1}},
 {"data":{"name":"LEG"},"mark":{"type":"point","filled":false},"encoding":{
   "color":{"field":"s","type":"nominal","scale":{"domain":["Experiment","UAVM","NS"],"range":["#2b65ae","#e3242b","#222222"]},"legend":{"title":null,"legendX":15,"legendY":-39}},
   "shape":{"field":"s","type":"nominal","scale":{"domain":["Experiment","UAVM","NS"],"range":["M-1,0H1","M-1,0H-0.3M0.3,0H1M0.3,0A0.3,0.3,0,1,1,-0.3,0A0.3,0.3,0,1,1,0.3,0","M-1,0H-0.27M0.27,0H1M-0.27,-0.27H0.27V0.27H-0.27Z"]},"legend":{"title":null,"legendX":15,"legendY":-39}}}}
]
},
{
"width":312,"height":314,
"title":{"text":"c) Sinusoidal motion","orient":"bottom","anchor":"start","frame":"bounds","font":"Liberation Serif","fontSize":21,"fontWeight":"bold","color":"#111","offset":8},
"encoding":{
 "x":{"field":"x","type":"quantitative","scale":{"domain":[-2,8],"nice":false,"zero":false},"axis":{"values":[-2,0,2,4,6,8],"title":"Cₜ Experiment"}},
 "y":{"field":"y","type":"quantitative","scale":{"domain":[-2,8],"nice":false,"zero":false},"axis":{"values":[-2,0,2,4,6,8],"title":"Cₜ","titlePadding":9}}
},
"layer":[
 {"data":{"name":"N"},"transform":[{"filter":"datum.k=='cd'"},{"window":[{"op":"row_number","as":"i"}]}],"mark":{"type":"line","interpolate":"catmull-rom","color":"#222222","strokeWidth":1.8,"strokeDash":[6,4]},"encoding":{"detail":{"field":"g"},"order":{"field":"i","type":"quantitative"}}},
 {"data":{"name":"N"},"transform":[{"filter":"datum.k=='cs'"},{"window":[{"op":"row_number","as":"i"}]}],"mark":{"type":"line","interpolate":"catmull-rom","color":"#222222","strokeWidth":1.8},"encoding":{"detail":{"field":"g"},"order":{"field":"i","type":"quantitative"}}},
 {"data":{"name":"U"},"transform":[{"filter":"datum.k=='cd'"},{"window":[{"op":"row_number","as":"i"}]}],"mark":{"type":"line","interpolate":"catmull-rom","color":"#e3242b","strokeWidth":2,"strokeDash":[7,5]},"encoding":{"detail":{"field":"g"},"order":{"field":"i","type":"quantitative"}}},
 {"data":{"name":"U"},"transform":[{"filter":"datum.k=='cs'"},{"window":[{"op":"row_number","as":"i"}]}],"mark":{"type":"line","interpolate":"catmull-rom","color":"#e3242b","strokeWidth":2},"encoding":{"detail":{"field":"g"},"order":{"field":"i","type":"quantitative"}}},
 {"data":{"name":"EXP"},"transform":[{"filter":"datum.p=='c'"}],"mark":{"type":"line","color":"#2b65ae","strokeWidth":2.6},"encoding":{}},
 {"data":{"name":"MU"},"transform":[{"filter":"datum.p=='c'"}],"mark":{"type":"point","shape":"circle","size":60,"filled":false,"color":"#e3242b","strokeWidth":1.8,"opacity":1}},
 {"data":{"name":"MN"},"transform":[{"filter":"datum.p=='c'"}],"mark":{"type":"point","shape":"square","size":42,"filled":true,"fill":"#777777","stroke":"#151515","strokeWidth":1.8,"opacity":1}},
 {"data":{"name":"LEG"},"mark":{"type":"point","filled":false},"encoding":{
   "color":{"field":"s","type":"nominal","scale":{"domain":["Experiment","UAVM","NS"],"range":["#2b65ae","#e3242b","#222222"]},"legend":{"title":null,"legendX":15,"legendY":-39}},
   "shape":{"field":"s","type":"nominal","scale":{"domain":["Experiment","UAVM","NS"],"range":["M-1,0H1","M-1,0H-0.3M0.3,0H1M0.3,0A0.3,0.3,0,1,1,-0.3,0A0.3,0.3,0,1,1,0.3,0","M-1,0H-0.27M0.27,0H1M-0.27,-0.27H0.27V0.27H-0.27Z"]},"legend":{"title":null,"legendX":15,"legendY":-39}}}}
]
}
]
}
]
}
